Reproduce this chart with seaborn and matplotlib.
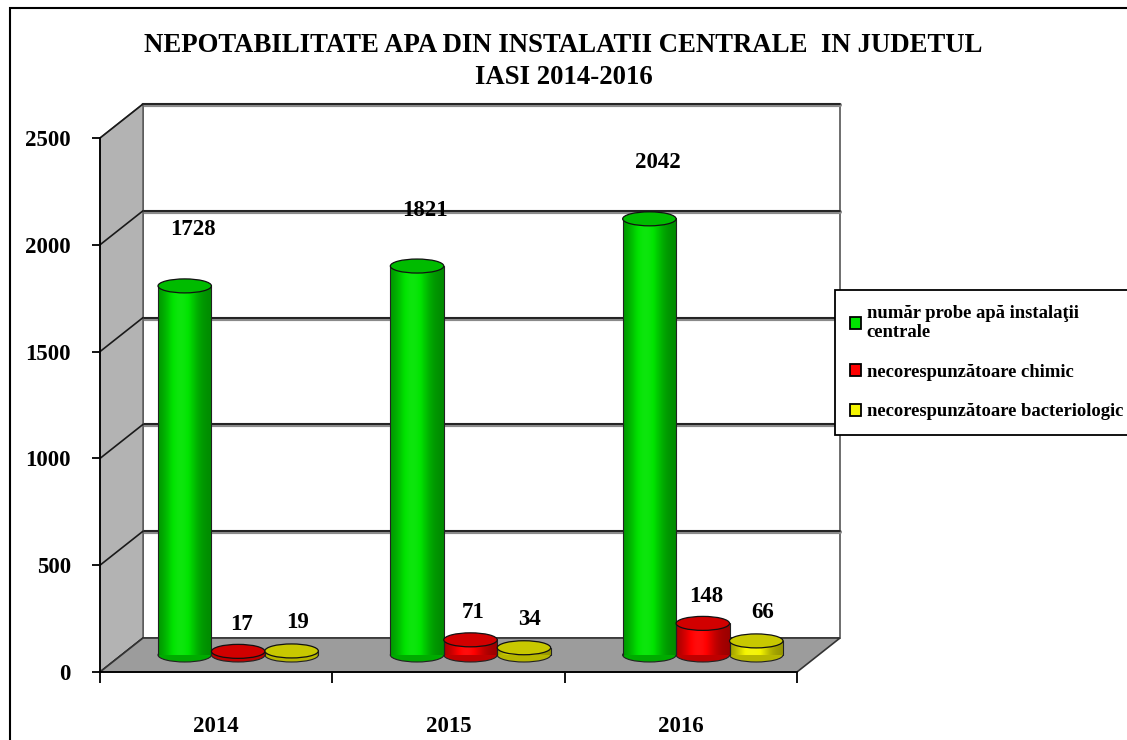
import numpy as np
import pandas as pd
import seaborn as sns
import matplotlib.pyplot as plt
from matplotlib.patches import Rectangle, Polygon, Ellipse, Patch
from matplotlib.lines import Line2D
from matplotlib.colors import to_rgb
from matplotlib.transforms import ScaledTranslation, IdentityTransform

# ---------------- data ----------------
years = ['2014', '2015', '2016']
total_samples = [1728, 1821, 2042]
chem_fail = [17, 71, 148]
bact_fail = [19, 34, 66]
series_names = ['număr probe apă instalaţii\ncentrale',
                'necorespunzătoare chimic',
                'necorespunzătoare bacteriologic']
colors = ['#00e400', '#ff0000', '#f4f400']
yticks = [0, 500, 1000, 1500, 2000, 2500]
title_lines = ['NEPOTABILITATE APA DIN INSTALATII CENTRALE  IN JUDETUL', 'IASI 2014-2016']

df = pd.DataFrame({
    'year': years * 3,
    'series': [s for s in series_names for _ in years],
    'value': total_samples + chem_fail + bact_fail,
})

sns.set_theme(style='white')
plt.rcParams['font.family'] = ['Liberation Serif', 'DejaVu Serif']
plt.rcParams['font.weight'] = 'bold'
for k in ['text.color', 'axes.labelcolor', 'xtick.color', 'ytick.color', 'axes.edgecolor']:
    plt.rcParams[k] = 'black'

W, H = 1127, 740
DPI = 100
fig = plt.figure(figsize=(W / DPI, H / DPI), dpi=DPI)
fig.patch.set_facecolor('white')

# front plane axes
ax = fig.add_axes([100 / W, (H - 672) / H, 697 / W, 534 / H])
ax.patch.set_visible(False)

sns.barplot(data=df, x='year', y='value', hue='series', hue_order=series_names,
            palette=colors, width=0.69, saturation=1, linewidth=0,
            legend=False, ax=ax, zorder=3)
ax.set_xlim(-0.5, 2.5)
ax.set_ylim(0, 2500)
ax.set_xlabel('')
ax.set_ylabel('')

# depth offsets (pixels)
BX, BY = 43, 34     # back plane
MX, MY = 22, 17     # middle plane (bars)
off_back = ScaledTranslation(BX / DPI, BY / DPI, fig.dpi_scale_trans)
off_mid = ScaledTranslation(MX / DPI, MY / DPI, fig.dpi_scale_trans)
t_back = ax.transData + off_back
t_mid = ax.transData + off_mid

# back wall
ax.add_patch(Rectangle((-0.5, 0), 3, 2500, fc='white', ec='#555555', lw=1.2,
                       transform=t_back, zorder=0.5, clip_on=False))
for v in yticks[1:]:
    ax.add_line(Line2D([-0.5, 2.5], [v, v], color='#8a8a8a', lw=3.0,
                       transform=t_back + ScaledTranslation(0, -1 / DPI, fig.dpi_scale_trans),
                       zorder=0.55, clip_on=False))
    ax.add_line(Line2D([-0.5, 2.5], [v, v], color='#1a1a1a', lw=1.3,
                       transform=t_back, zorder=0.6, clip_on=False))

# side wall and floor in display coordinates
def T(x, y, dx=0, dy=0):
    p = ax.transData.transform((x, y))
    return (p[0] + dx, p[1] + dy)

side = [T(-0.5, 0), T(-0.5, 2500), T(-0.5, 2500, BX, BY), T(-0.5, 0, BX, BY)]
ax.add_patch(Polygon(side, closed=True, fc='#b3b3b3', ec='#555555', lw=1,
                     transform=IdentityTransform(), zorder=0.7, clip_on=False))
for v in yticks:
    a = T(-0.5, v); b = T(-0.5, v, BX, BY)
    ax.add_line(Line2D([a[0], b[0]], [a[1], b[1]], color='#1a1a1a', lw=1.2,
                       transform=IdentityTransform(), zorder=0.75, clip_on=False))
floor = [T(-0.5, 0), T(2.5, 0), T(2.5, 0, BX, BY), T(-0.5, 0, BX, BY)]
ax.add_patch(Polygon(floor, closed=True, fc='#9c9c9c', ec='#333333', lw=1.2,
                     transform=IdentityTransform(), zorder=0.8, clip_on=False))

# cylinders
ell_h = 14 * 2500 / 534
bars = [p for p in list(ax.patches)
        if isinstance(p, Rectangle) and p.get_height() > 0 and p.get_width() < 1]
label_off = {0: (8, 56), 1: (3, 27), 2: (6, 28)}
for p in bars:
    x0, w, h = p.get_x(), p.get_width(), p.get_height()
    fc = np.array(p.get_facecolor()[:3])
    sidx = int(np.argmin([np.sum((fc - np.array(to_rgb(c))) ** 2) for c in colors]))
    p.set_transform(t_mid)
    p.set_clip_on(False)
    p.set_visible(False)
    # shaded body via gradient
    t = np.linspace(0, 1, 64)
    shade = 0.6 + 0.5 * np.exp(-((t - 0.42) / 0.3) ** 2)
    grad = np.where(shade[:, None] > 1,
                    fc[None, :] + (1 - fc[None, :]) * (shade[:, None] - 1) * 0.5,
                    fc[None, :] * shade[:, None])
    img = np.clip(grad, 0, 1)[None, :, :]
    bot = Ellipse((x0 + w / 2, 0), w, ell_h, fc=fc * 0.75, ec='#222222', lw=0.8,
                  transform=t_mid, zorder=2.9, clip_on=False)
    ax.add_patch(bot)
    im = ax.imshow(img, extent=[x0, x0 + w, 0, h], aspect='auto', transform=t_mid,
                   zorder=3.0, interpolation='bilinear')
    im.set_clip_on(False)
    for xx in (x0, x0 + w):
        ax.add_line(Line2D([xx, xx], [0, h], color='#222222', lw=0.8,
                           transform=t_mid, zorder=3.05, clip_on=False))
    top = Ellipse((x0 + w / 2, h), w, ell_h, fc=fc * 0.82, ec='#111111', lw=0.9,
                  transform=t_mid, zorder=3.1, clip_on=False)
    ax.add_patch(top)
    dx, dy = label_off[sidx]
    ax.annotate(f'{int(round(h))}', xy=(x0 + w / 2, h), xycoords=t_mid,
                xytext=(dx, dy), textcoords='offset pixels', ha='center', va='center',
                fontsize=16.5, fontweight='bold', color='black', zorder=5,
                annotation_clip=False)

ax.set_xlim(-0.5, 2.5)
ax.set_ylim(0, 2500)

# axes / ticks
for s in ['top', 'right']:
    ax.spines[s].set_visible(False)
for s in ['left', 'bottom']:
    ax.spines[s].set_visible(True)
    ax.spines[s].set_color('black')
    ax.spines[s].set_linewidth(1.3)
    ax.spines[s].set_zorder(4)
ax.set_yticks(yticks)
ax.set_yticklabels([str(v) for v in yticks], fontsize=16.5, fontweight='bold')
ax.set_xticks([-0.5, 0.5, 1.5, 2.5])
ax.set_xticklabels([])
ax.set_xticks([0, 1, 2], minor=True)
ax.set_xticklabels(years, minor=True, fontsize=16.5, fontweight='bold')
ax.tick_params(axis='y', direction='out', length=6, width=1.3, color='black', pad=15, left=True)
ax.tick_params(axis='x', which='major', direction='out', length=8, width=1.3, color='black', bottom=True)
ax.tick_params(axis='x', which='minor', length=0, pad=32)
ax.grid(False)

# title
fig.text(0.5, 1 - 46 / H, title_lines[0], ha='center', va='center', fontsize=19.3, fontweight='bold')
fig.text(0.5, 1 - 78 / H, title_lines[1], ha='center', va='center', fontsize=19.3, fontweight='bold')

# legend
handles = [Patch(fc=c, ec='black', lw=1.3) for c in colors]
leg = fig.legend(handles, series_names, loc='upper left',
                 bbox_to_anchor=(835 / W, 1 - 290 / H), bbox_transform=fig.transFigure,
                 frameon=True, fancybox=False, edgecolor='black', framealpha=1,
                 prop={'family': 'Liberation Serif', 'weight': 'bold', 'size': 13.4},
                 handlelength=0.6, handleheight=0.6, handletextpad=0.3,
                 labelspacing=1.2, borderpad=0.8, borderaxespad=0)
leg.get_frame().set_linewidth(1.3)

# outer frame
fig.patches.append(Rectangle((10 / W, -0.05), 1.2, 1 - 8 / H + 0.05, fill=False,
                             ec='black', lw=1.5, transform=fig.transFigure, figure=fig))

fig.savefig('out.png', dpi=DPI, facecolor='white')
